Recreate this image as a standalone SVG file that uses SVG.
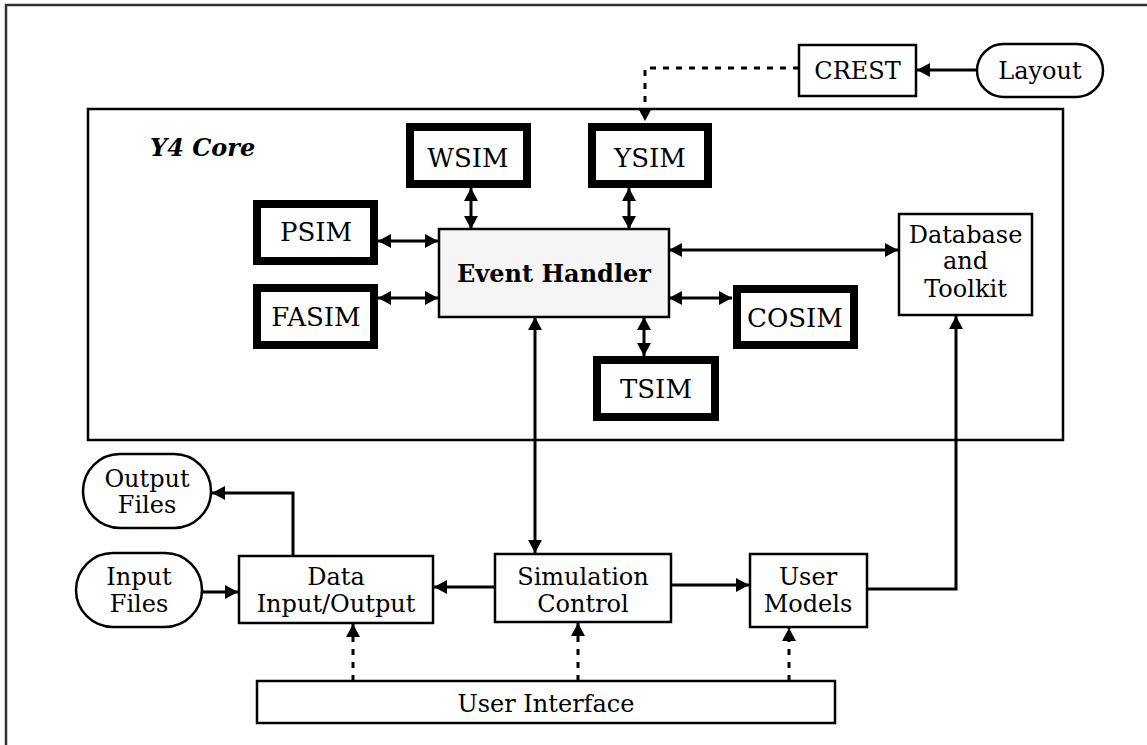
<svg xmlns="http://www.w3.org/2000/svg" width="1147" height="745" viewBox="0 0 1147 745">
<defs>
<marker id="ah" markerUnits="userSpaceOnUse" markerWidth="14" markerHeight="14" viewBox="0 0 13 14" refX="13" refY="7" orient="auto-start-reverse"><path d="M0,0 L13,7 L0,14 z" fill="#000"/></marker>
<style>
text{font-family:"DejaVu Serif","Liberation Serif",serif;font-size:24px;fill:#000;text-anchor:middle}
.sim{font-size:26px}
.b{font-weight:bold}
.bi{font-weight:bold;font-style:italic;text-anchor:start}
.box{fill:#fff;stroke:#000;stroke-width:2.5}
.thick{fill:#fff;stroke:#000;stroke-width:8}
.eh{fill:#f5f5f5;stroke:#000;stroke-width:2.5}
.c{fill:none;stroke:#000;stroke-width:3}
.a{marker-end:url(#ah)}
.d{marker-start:url(#ah);marker-end:url(#ah)}
.dot{fill:none;stroke:#000;stroke-width:3;stroke-dasharray:6 7;marker-end:url(#ah)}
</style>
</defs>
<rect width="1147" height="745" fill="#fff"/>
<g id="frame"><path d="M6,745 V5 H1147" fill="none" stroke="#333" stroke-width="2.5"/></g>
<g id="y4core"><rect class="box" x="88" y="109" width="975" height="331"/><text class="bi" x="150" y="156">Y4 Core</text></g>
<g id="connectors">
<path class="c d" d="M378,241 H438"/>
<path class="c d" d="M378,298 H438"/>
<path class="c d" d="M471,188 V229"/>
<path class="c d" d="M629,188 V229"/>
<path class="c d" d="M669,250 H898"/>
<path class="c d" d="M669,298 H732"/>
<path class="c d" d="M644,317 V356"/>
<path class="c d" d="M535,317 V553"/>
<path class="c a" d="M977,70 H917"/>
<path class="dot" d="M799,68 H645 V121"/>
<path class="c a" d="M495,587 H434"/>
<path class="c a" d="M671,585 H749"/>
<path class="c a" d="M867,589 H956 V316"/>
<path class="c a" d="M293,556 V493 H212"/>
<path class="c a" d="M199,592 H238"/>
<path class="dot" d="M353,681 V624"/>
<path class="dot" d="M578,681 V623"/>
<path class="dot" d="M789,681 V628"/>
</g>
<g id="psim"><rect class="thick" x="257" y="204" width="117" height="57"/><text class="sim" x="316" y="241">PSIM</text></g>
<g id="fasim"><rect class="thick" x="257" y="288" width="117" height="57"/><text class="sim" x="316" y="326">FASIM</text></g>
<g id="wsim"><rect class="thick" x="410" y="127" width="117" height="57"/><text class="sim" x="468" y="167">WSIM</text></g>
<g id="ysim"><rect class="thick" x="592" y="127" width="116" height="57"/><text class="sim" x="650" y="167">YSIM</text></g>
<g id="cosim"><rect class="thick" x="737" y="289" width="117" height="56"/><text class="sim" x="795" y="327">COSIM</text></g>
<g id="tsim"><rect class="thick" x="597" y="360" width="118" height="57"/><text class="sim" x="656" y="398">TSIM</text></g>
<g id="eventhandler"><rect class="eh" x="439" y="229" width="230" height="88"/><text class="b" x="554" y="282">Event Handler</text></g>
<g id="database"><rect class="box" x="899" y="214" width="133" height="101"/><text x="965.5" y="243">Database</text><text x="965.5" y="269">and</text><text x="965.5" y="297">Toolkit</text></g>
<g id="crest"><rect class="box" x="799" y="45" width="117" height="51"/><text x="857.5" y="79">CREST</text></g>
<g id="layout"><rect class="box" x="977" y="44" width="126" height="53" rx="26.5"/><text x="1040" y="79">Layout</text></g>
<g id="outputfiles"><rect class="box" x="83" y="454" width="128" height="74" rx="37"/><text x="147" y="487">Output</text><text x="147" y="513">Files</text></g>
<g id="inputfiles"><rect class="box" x="76" y="553" width="126" height="74" rx="37"/><text x="139" y="585">Input</text><text x="139" y="612">Files</text></g>
<g id="dataio"><rect class="box" x="239" y="556" width="194" height="67"/><text x="336" y="585">Data</text><text x="336" y="612">Input/Output</text></g>
<g id="simcontrol"><rect class="box" x="495" y="554" width="176" height="68"/><text x="583" y="585">Simulation</text><text x="583" y="612">Control</text></g>
<g id="usermodels"><rect class="box" x="750" y="554" width="117" height="73"/><text x="808" y="585">User</text><text x="808" y="612">Models</text></g>
<g id="userinterface"><rect class="box" x="257" y="681" width="578" height="42"/><text x="546" y="712">User Interface</text></g>
</svg>
